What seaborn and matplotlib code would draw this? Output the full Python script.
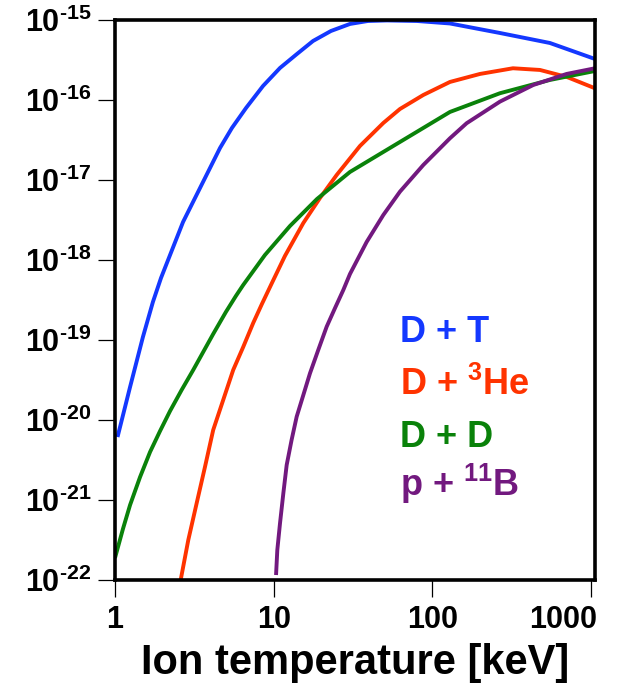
import numpy as np
import pandas as pd
import seaborn as sns
import matplotlib
matplotlib.use("Agg")
import matplotlib.pyplot as plt
import matplotlib.transforms as mtransforms
from matplotlib.ticker import NullLocator, FixedLocator, FixedFormatter

# reactivity <sigma v> [cm^3/s] vs ion temperature [keV]
# (kept as log10 values of T and <sigma v>)
dt_logT = [0.016, 0.095, 0.176, 0.239, 0.290, 0.347, 0.429, 0.536, 0.662, 0.737, 0.826,
           0.933, 1.040, 1.147, 1.248, 1.361, 1.481, 1.594, 1.714, 1.903, 2.111, 2.426, 2.741, 3.025]
dt_logsv = [-20.213, -19.588, -18.963, -18.525, -18.225, -17.938, -17.525, -17.1, -16.6, -16.35,
            -16.1, -15.825, -15.6, -15.425, -15.263, -15.138, -15.05, -15.013, -15.006, -15.013,
            -15.044, -15.163, -15.288, -15.488]

dhe3_logT = [0.414, 0.462, 0.515, 0.567, 0.619, 0.682, 0.745, 0.808, 0.871, 0.926, 0.989, 1.071,
             1.187, 1.292, 1.397, 1.544, 1.691, 1.796, 1.943, 2.111, 2.300, 2.508, 2.678, 2.848, 3.025]
dhe3_logsv = [-22.0, -21.5, -21.038, -20.588, -20.125, -19.75, -19.375, -19.088, -18.788, -18.55,
              -18.288, -17.95, -17.538, -17.225, -16.938, -16.575, -16.288, -16.113, -15.938, -15.775,
              -15.675, -15.604, -15.625, -15.713, -15.854]

dd_logT = [0.0, 0.050, 0.095, 0.158, 0.221, 0.284, 0.347, 0.420, 0.493, 0.556, 0.619, 0.699,
           0.762, 0.808, 0.945, 1.103, 1.273, 1.481, 1.691, 1.901, 2.111, 2.426, 2.741, 3.025]
dd_logsv = [-21.725, -21.363, -21.063, -20.713, -20.4, -20.138, -19.888, -19.625, -19.375, -19.15,
            -18.925, -18.65, -18.45, -18.313, -17.938, -17.575, -17.238, -16.9, -16.65, -16.4,
            -16.15, -15.916, -15.75, -15.638]

pb_logT = [1.015, 1.023, 1.040, 1.061, 1.082, 1.113, 1.145, 1.187, 1.229, 1.281, 1.334, 1.386,
           1.439, 1.481, 1.586, 1.691, 1.796, 1.943, 2.111, 2.216, 2.426, 2.636, 2.846, 3.025]
pb_logsv = [-21.938, -21.625, -21.291, -20.916, -20.563, -20.25, -19.959, -19.688, -19.416, -19.125,
            -18.834, -18.604, -18.375, -18.175, -17.775, -17.438, -17.146, -16.813, -16.479, -16.291,
            -16.021, -15.813, -15.675, -15.604]

labels = ["D + T", "D + $^{3}$He", "D + D", "p + $^{11}$B"]
colors = ["#1438ff", "#ff3300", "#0a820a", "#72197f"]

xticks = [1, 10, 100, 1000]
xtick_labels = ["1", "10", "100", "1000"]
ytick_exp = [-22, -21, -20, -19, -18, -17, -16, -15]

sns.set_style("ticks")
plt.rcParams["font.family"] = ["Liberation Sans", "DejaVu Sans"]
plt.rcParams["font.weight"] = "bold"
plt.rcParams["mathtext.fontset"] = "custom"
plt.rcParams["mathtext.rm"] = "Liberation Sans:bold"
plt.rcParams["mathtext.it"] = "Liberation Sans:bold"
plt.rcParams["mathtext.bf"] = "Liberation Sans:bold"
plt.rcParams["mathtext.default"] = "rm"
for k in ["text.color", "axes.labelcolor", "xtick.color", "ytick.color", "axes.edgecolor"]:
    plt.rcParams[k] = "black"

fig = plt.figure(figsize=(6.28, 6.95), dpi=100)
ax = fig.add_axes([0.1831, 0.1655, 0.7643, 0.8058])
ax.set_xscale("log")
ax.set_yscale("log")

series = [(dt_logT, dt_logsv), (dhe3_logT, dhe3_logsv), (dd_logT, dd_logsv), (pb_logT, pb_logsv)]
for (lt, ls), c in zip(series, colors):
    df = pd.DataFrame({"T": 10.0 ** np.array(lt), "sv": 10.0 ** np.array(ls)})
    sns.lineplot(data=df, x="T", y="sv", color=c, lw=2.8, sort=False,
                 estimator=None, ax=ax, solid_capstyle="butt", solid_joinstyle="round")

ax.set_xlim(1, 1059)
ax.set_ylim(1e-22, 1e-15)

ax.xaxis.set_major_locator(FixedLocator(xticks))
ax.xaxis.set_major_formatter(FixedFormatter(xtick_labels))
ax.yaxis.set_major_locator(FixedLocator([10.0 ** k for k in ytick_exp]))
ax.yaxis.set_major_formatter(FixedFormatter(["10$^{\u2010%d}$" % (-k) for k in ytick_exp]))
ax.xaxis.set_minor_locator(NullLocator())
ax.yaxis.set_minor_locator(NullLocator())

ax.tick_params(axis="x", labelsize=22, length=12, width=0.9, pad=6, direction="out")
ax.tick_params(axis="y", labelsize=22, length=12, width=0.9, pad=5, direction="out")
for s in ax.spines.values():
    s.set_linewidth(2.6)
    s.set_color("black")

# the last x label sits left of its tick so that it stays inside the figure
last = ax.get_xticklabels()[-1]
last.set_horizontalalignment("right")
last.set_transform(last.get_transform() + mtransforms.ScaledTranslation(0.06, 0, fig.dpi_scale_trans))

ax.set_xlabel("Ion temperature [keV]", fontsize=30, fontweight="bold", labelpad=6)
ax.set_ylabel("")

text_y = [0.425, 0.330, 0.2375, 0.150]
for lab, c, ty in zip(labels, colors, text_y):
    ax.text(0.594, ty, lab, color=c, fontsize=26, fontweight="bold",
            transform=ax.transAxes, va="baseline", ha="left")

fig.savefig("out.png", dpi=100)
